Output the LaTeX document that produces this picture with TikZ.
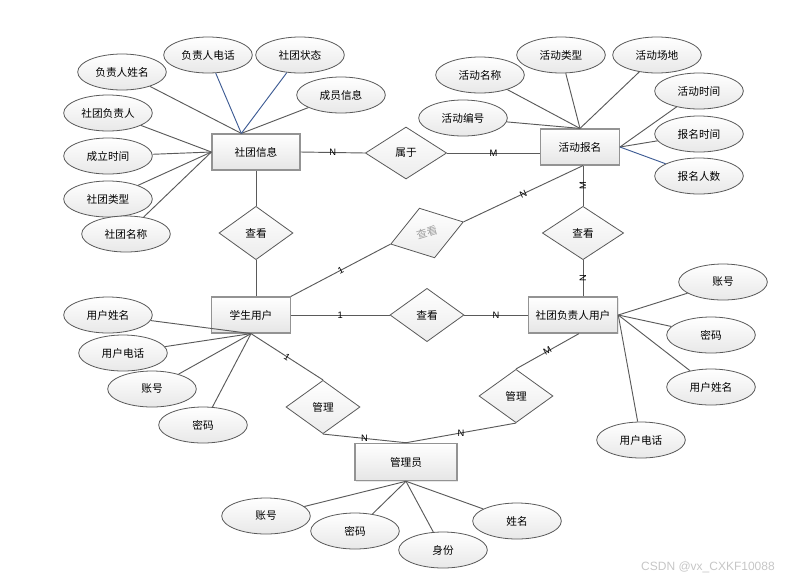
\documentclass[tikz,border=0pt]{standalone}
\usepackage{fontspec}
\setmainfont{Noto Sans CJK SC}
\newfontfamily\cardfont{Liberation Sans}
\usetikzlibrary{shapes.geometric,shadows}
\definecolor{edgegray}{HTML}{5A5A5A}
\definecolor{edgeblue}{HTML}{3E5C94}

\begin{document}
\begin{tikzpicture}[x=0.75pt, y=-0.75pt,
  every node/.style={font=\fontsize{8}{9}\selectfont},
  ent/.style={rectangle, draw=gray!85, line width=0.9pt, top color=white, bottom color=gray!20,
    minimum height=27pt, inner sep=0pt, drop shadow={shadow xshift=0.7pt, shadow yshift=-0.7pt, fill=gray!35}},
  attr/.style={ellipse, draw=gray!70!black, line width=0.6pt, top color=white, bottom color=gray!18,
    minimum width=66.5pt, minimum height=27pt, inner sep=0pt},
  rel/.style={diamond, draw=gray!70!black, line width=0.6pt, top color=white, bottom color=gray!15,
    minimum width=55.5pt, minimum height=40pt, inner sep=0pt},
  card/.style={font=\cardfont\fontsize{7}{8}\selectfont, inner sep=0.5pt},
  link/.style={draw=edgegray, line width=0.7pt},
  bluelink/.style={draw=edgeblue, line width=0.7pt}]
\useasboundingbox (0,0) rectangle (803,583);

% entities
\node[ent, minimum width=66pt] (st) at (256,152) {社团信息};
\node[ent, minimum width=59pt] (hd) at (580,147) {活动报名};
\node[ent, minimum width=59pt] (xs) at (251,315) {学生用户};
\node[ent, minimum width=67pt] (fz) at (573,315) {社团负责人用户};
\node[ent, minimum width=76.5pt, minimum height=28pt] (gl) at (406,462) {管理员};

% relations
\node[rel, minimum width=61pt, minimum height=39pt] (sy) at (406,153) {属于};
\node[rel] (ck1) at (256,233) {查看};
\node[rel, rotate=17, minimum width=57pt, minimum height=39pt, text=gray!75] (ck2) at (427,233) {查看};
\node[rel, minimum width=61pt] (ck3) at (583,233) {查看};
\node[rel] (ck4) at (427,315) {查看};
\node[rel] (gm1) at (323,407) {管理};
\node[rel] (gm2) at (516,396) {管理};

% attributes
\foreach \n/\x/\y/\t in {a1/122/72/负责人姓名, a2/208/55/负责人电话, a3/300/55/社团状态, a4/341/95/成员信息,
  a5/108/113/社团负责人, a6/108/156/成立时间, a7/108/199/社团类型, a8/126/234/社团名称,
  b1/480/75/活动名称, b2/561/55/活动类型, b3/657/55/活动场地, b4/463/118/活动编号,
  b5/699/91/活动时间, b6/699/134/报名时间, b7/699/176/报名人数,
  c1/108/315/用户姓名, c2/123/353/用户电话, c3/152/389/账号, c4/203/425/密码,
  d1/723/282/账号, d2/711/335/密码, d3/711/387/用户姓名, d4/641/440/用户电话,
  e1/266/516/账号, e2/355/531/密码, e3/443/550/身份, e4/517/521/姓名}
  \node[attr] (\n) at (\x,\y) {\t};

% attribute links
\foreach \n in {a1,a4} \draw[link] (\n) -- ([xshift=-11pt]st.north);
\foreach \n in {a2,a3} \draw[bluelink] (\n) -- ([xshift=-11pt]st.north);
\foreach \n in {a5,a6,a7,a8} \draw[link] (\n) -- (st.west);
\foreach \n in {b1,b2,b3,b4} \draw[link] (\n) -- (hd.north);
\foreach \n in {b5,b6} \draw[link] (\n) -- (hd.east);
\draw[bluelink] (b7) -- (hd.east);
\foreach \n in {c1,c2,c3,c4} \draw[link] (\n) -- (xs.south);
\foreach \n in {d1,d2,d3,d4} \draw[link] (\n) -- (fz.east);
\foreach \n in {e1,e2,e3,e4} \draw[link] (\n) -- (gl.south);

% relation links
\draw[link] (st.east) -- node[card] {N} (sy.west);
\draw[link] (sy.east) -- node[card] {M} (sy.east -| hd.west);
\draw[link] (st.south) -- (ck1.north);
\draw[link] (ck1.south) -- (ck1.south |- xs.north);
\draw[link] (xs.east) -- node[card] {1} (ck4.west);
\draw[link] (ck4.east) -- node[card] {N} (fz.west);
\draw[link] (xs.north east) -- node[card, sloped] {1} (ck2.west);
\draw[link] (ck2.east) -- node[card, sloped] {N} (ck3.north |- hd.south);
\draw[link] (ck3.north |- hd.south) -- node[card, rotate=90] {M} (ck3.north);
\draw[link] (ck3.south) -- node[card, rotate=90] {N} (ck3.south |- fz.north);
\draw[link] (xs.south) -- node[card, sloped] {1} (gm1.north);
\draw[link] (gm1.south) -- node[card] {N} (gl.north);
\draw[link] (gl.north) -- node[card] {N} (gm2.south);
\draw[link] (gm2.north) -- node[card, sloped] {M} ([xshift=4.5pt]fz.south);

\node[font=\cardfont\fontsize{9}{10}\selectfont, text=gray!45] (mark) at (708,567) {CSDN @vx\_CXKF10088};
\end{tikzpicture}
\end{document}
